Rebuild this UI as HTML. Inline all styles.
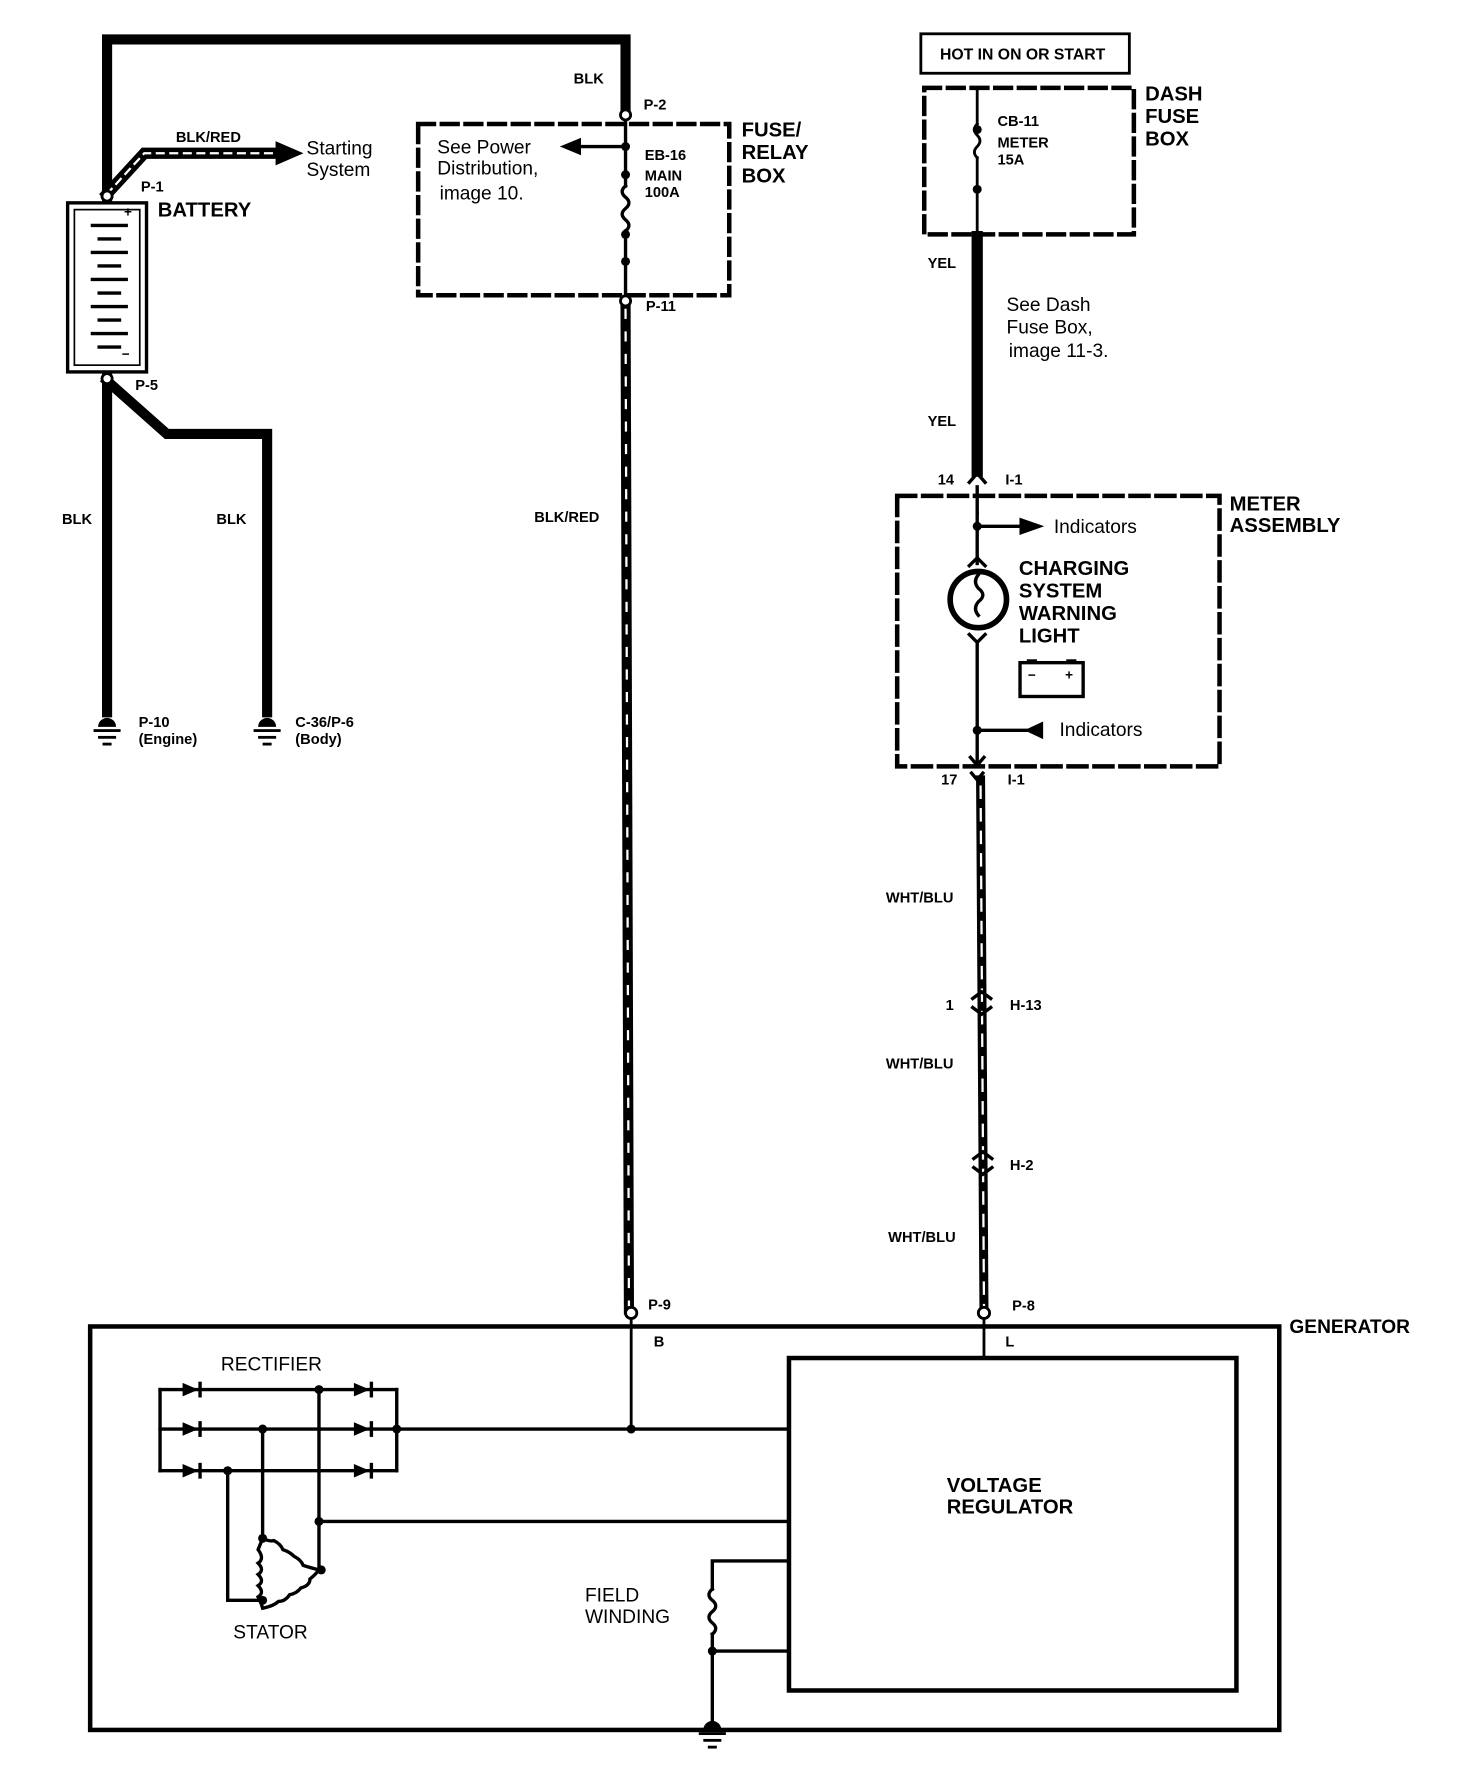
<!DOCTYPE html>
<html><head><meta charset="utf-8"><style>
html,body{margin:0;padding:0;background:#fff;}
svg{display:block}
text{font-family:"Liberation Sans",sans-serif;fill:#000}
.b{font-weight:bold}
</style></head><body>
<svg width="1472" height="1766" viewBox="0 0 1306 1567" preserveAspectRatio="none" xmlns="http://www.w3.org/2000/svg">
<g fill="none" stroke="#000" stroke-linecap="square">
<polyline points="95,175 95,35 555,35 555,98" stroke-width="9"/>
<polyline points="95,172 128,136 245,136" stroke-width="10"/>
<polyline points="95,172 128,136 245,136" stroke="#fff" stroke-width="2" stroke-dasharray="6 6"/>
<polygon points="245,126 268,136 245,146" fill="#000"/>
<rect x="60" y="180" width="70" height="150" stroke-width="3"/>
<rect x="66" y="186" width="58" height="138" stroke-width="1.5"/>
<g stroke-width="3">
<line x1="82" y1="200" x2="112" y2="200"/><line x1="88" y1="212" x2="106" y2="212"/>
<line x1="82" y1="224" x2="112" y2="224"/><line x1="88" y1="236" x2="106" y2="236"/>
<line x1="82" y1="248" x2="112" y2="248"/><line x1="88" y1="260" x2="106" y2="260"/>
<line x1="82" y1="272" x2="112" y2="272"/><line x1="88" y1="284" x2="106" y2="284"/>
<line x1="82" y1="296" x2="112" y2="296"/><line x1="88" y1="308" x2="106" y2="308"/>
</g>
<line x1="95" y1="335" x2="95" y2="632" stroke-width="9"/>
<polyline points="95,338 148,385 237,385 237,632" stroke-width="9"/>
<rect x="371" y="110" width="276" height="152" stroke-width="4" stroke-dasharray="14 7"/>
<line x1="555" y1="100" x2="555" y2="165" stroke-width="3"/>
<path d="M555,165 q-6,5 0,10 q6,5 0,10 q-6,5 0,10 q6,5 0,10" stroke-width="3"/>
<line x1="555" y1="205" x2="555" y2="267" stroke-width="3"/>
<line x1="555" y1="130" x2="512" y2="130" stroke-width="3"/>
<polygon points="515,123 498,130 515,137" fill="#000"/>
<line x1="555" y1="270" x2="558" y2="1162" stroke-width="9"/>
<line x1="555" y1="275" x2="558" y2="1158" stroke="#fff" stroke-width="2" stroke-dasharray="7 13"/>
<rect x="817" y="30" width="185" height="35" stroke-width="2.5"/>
<rect x="820" y="78" width="186" height="130" stroke-width="4" stroke-dasharray="14 7"/>
<line x1="867" y1="78" x2="867" y2="110" stroke-width="2.5"/>
<path d="M867,110 q-5,5 0,10 q5,5 0,10 q-5,5 0,10" stroke-width="2.5"/>
<line x1="867" y1="140" x2="867" y2="208" stroke-width="2.5"/>
<line x1="867" y1="210" x2="867" y2="418" stroke-width="10"/>
<path d="M860,428 L867,420 L874,428" stroke-width="3"/>
<line x1="867" y1="432" x2="867" y2="455" stroke-width="3"/>
<rect x="796" y="440" width="286" height="240" stroke-width="4" stroke-dasharray="16 7"/>
<line x1="867" y1="455" x2="867" y2="500" stroke-width="3"/>
<line x1="867" y1="467" x2="905" y2="467" stroke-width="3"/>
<polygon points="905,460 925,467 905,474" fill="#000"/>
<path d="M860,502 L867,495 L874,502" stroke-width="3"/>
<circle cx="868" cy="532" r="25" stroke-width="5"/>
<path d="M868,510 q-5,6 0,12 q8,6 0,12 q-5,6 0,12" stroke-width="3"/>
<path d="M860,563 L867,570 L874,563" stroke-width="3"/>
<line x1="867" y1="570" x2="867" y2="680" stroke-width="3"/>
<rect x="905" y="588" width="56" height="30" stroke-width="3"/>
<line x1="867" y1="648" x2="912" y2="648" stroke-width="3"/>
<polygon points="925,641 910,648 925,655" fill="#000"/>
<path d="M861,672 L867,679 L873,672" stroke-width="3"/>
<path d="M862,686 L867,692 L872,686" stroke-width="3"/>
<line x1="870" y1="692" x2="873" y2="1162" stroke-width="8"/>
<line x1="870" y1="698" x2="873" y2="1158" stroke="#fff" stroke-width="2" stroke-dasharray="10 10"/>
<path d="M863,886 L871,880 L879,886 M863,894 L871,900 L879,894" stroke-width="3"/>
<path d="M864,1028 L872,1022 L880,1028 M864,1036 L872,1042 L880,1036" stroke-width="3"/>
<rect x="80" y="1177" width="1055" height="358" stroke-width="4"/>
<rect x="700" y="1205" width="397" height="295" stroke-width="4"/>
<line x1="560" y1="1165" x2="560" y2="1268" stroke-width="2.5"/>
<line x1="873" y1="1165" x2="873" y2="1205" stroke-width="2.5"/>
<g stroke-width="3">
<line x1="142" y1="1233" x2="352" y2="1233"/>
<line x1="142" y1="1268" x2="700" y2="1268"/>
<line x1="142" y1="1305" x2="352" y2="1305"/>
<line x1="142" y1="1233" x2="142" y2="1305"/>
<line x1="352" y1="1233" x2="352" y2="1305"/>
<line x1="283" y1="1233" x2="283" y2="1393"/>
<line x1="233" y1="1268" x2="233" y2="1365"/>
<polyline points="202,1305 202,1420 233,1420"/>
<line x1="283" y1="1350" x2="700" y2="1350"/>
<path d="M233,1365 q6,3 10,2 q6,3 8,8 q6,2 10,6 q6,3 8,8 q6,2 14,4 q-4,5 -8,8 q0,6 -8,8 q-4,5 -10,6 q-4,6 -10,6 q-4,4 -14,6 q-2,-7 -4,-10 q6,-4 0,-10 q6,-4 0,-10 q6,-4 0,-10 q6,-4 0,-12 z"/>
<polyline points="700,1385 632,1385 632,1410"/>
<path d="M632,1410 q-6,5 0,10 q6,5 0,10 q-6,5 0,10 q6,5 0,10"/>
<line x1="632" y1="1450" x2="632" y2="1535"/>
<line x1="632" y1="1465" x2="700" y2="1465"/>
</g>
</g>
<g fill="#000">
<polygon points="162,1227 176,1233 162,1239"/><rect x="176" y="1226" width="3" height="14"/>
<polygon points="162,1262 176,1268 162,1274"/><rect x="176" y="1261" width="3" height="14"/>
<polygon points="162,1299 176,1305 162,1311"/><rect x="176" y="1298" width="3" height="14"/>
<polygon points="314,1227 328,1233 314,1239"/><rect x="328" y="1226" width="3" height="14"/>
<polygon points="314,1262 328,1268 314,1274"/><rect x="328" y="1261" width="3" height="14"/>
<polygon points="314,1299 328,1305 314,1311"/><rect x="328" y="1298" width="3" height="14"/>
<circle cx="283" cy="1233" r="4"/><circle cx="233" cy="1268" r="4"/><circle cx="352" cy="1268" r="4"/>
<circle cx="202" cy="1305" r="4"/><circle cx="560" cy="1268" r="4"/><circle cx="283" cy="1350" r="4"/>
<circle cx="233" cy="1365" r="4"/><circle cx="285" cy="1393" r="4"/><circle cx="233" cy="1420" r="4"/>
<circle cx="632" cy="1465" r="4"/>
<circle cx="555" cy="130" r="4"/><circle cx="555" cy="155" r="4"/><circle cx="555" cy="208" r="4"/><circle cx="555" cy="232" r="4"/>
<circle cx="867" cy="115" r="4"/><circle cx="867" cy="168" r="4"/>
<circle cx="867" cy="467" r="4"/><circle cx="867" cy="648" r="4"/>
<path d="M87,645 a8,8 0 0 1 16,0 z"/><rect x="83" y="647" width="24" height="2.5"/><rect x="87" y="653" width="16" height="2.5"/><rect x="91" y="659" width="8" height="2.5"/>
<path d="M229,645 a8,8 0 0 1 16,0 z"/><rect x="225" y="647" width="24" height="2.5"/><rect x="229" y="653" width="16" height="2.5"/><rect x="233" y="659" width="8" height="2.5"/>
<path d="M624,1535 a8,8 0 0 1 16,0 z"/><rect x="620" y="1537" width="24" height="2.5"/><rect x="624" y="1543" width="16" height="2.5"/><rect x="628" y="1549" width="8" height="2.5"/>
<rect x="911" y="585" width="9" height="4"/><rect x="946" y="585" width="9" height="4"/>
</g>
<g fill="#fff" stroke="#000" stroke-width="2.5">
<circle cx="95" cy="174" r="4.5"/><circle cx="95" cy="336" r="4.5"/>
<circle cx="555" cy="102" r="4.5"/><circle cx="555" cy="267" r="4.5"/>
<circle cx="560" cy="1165" r="5"/><circle cx="873" cy="1165" r="5"/>
</g>
<g class="b" font-size="13">
<text x="509" y="74" class="b">BLK</text>
<text x="571" y="97" class="b">P-2</text>
<text x="156" y="126" class="b">BLK/RED</text>
<text x="125" y="170" class="b">P-1</text>
<text x="120" y="346" class="b">P-5</text>
<text x="55" y="465" class="b">BLK</text>
<text x="192" y="465" class="b">BLK</text>
<text x="123" y="645" class="b">P-10</text>
<text x="123" y="660" class="b">(Engine)</text>
<text x="262" y="645" class="b">C-36/P-6</text>
<text x="262" y="660" class="b">(Body)</text>
<text x="572" y="142" class="b">EB-16</text>
<text x="572" y="160" class="b">MAIN</text>
<text x="572" y="175" class="b">100A</text>
<text x="573" y="276" class="b">P-11</text>
<text x="474" y="463" class="b">BLK/RED</text>
<text x="885" y="112" class="b">CB-11</text>
<text x="885" y="131" class="b">METER</text>
<text x="885" y="146" class="b">15A</text>
<text x="823" y="238" class="b">YEL</text>
<text x="823" y="378" class="b">YEL</text>
<text x="832" y="430" class="b">14</text>
<text x="892" y="430" class="b">I-1</text>
<text x="835" y="696" class="b">17</text>
<text x="894" y="696" class="b">I-1</text>
<text x="786" y="801" class="b">WHT/BLU</text>
<text x="839" y="896" class="b">1</text>
<text x="896" y="896" class="b">H-13</text>
<text x="786" y="948" class="b">WHT/BLU</text>
<text x="896" y="1038" class="b">H-2</text>
<text x="788" y="1102" class="b">WHT/BLU</text>
<text x="575" y="1162" class="b">P-9</text>
<text x="898" y="1163" class="b">P-8</text>
<text x="580" y="1195" class="b">B</text>
<text x="892" y="1195" class="b">L</text>
</g>
<text x="834" y="53" font-size="14" class="b">HOT IN ON OR START</text>
<g font-size="18" class="b">
<text x="140" y="192">BATTERY</text>
<text x="658" y="121">FUSE/</text>
<text x="658" y="141">RELAY</text>
<text x="658" y="162">BOX</text>
<text x="1016" y="89">DASH</text>
<text x="1016" y="109">FUSE</text>
<text x="1016" y="129">BOX</text>
<text x="1091" y="453">METER</text>
<text x="1091" y="472">ASSEMBLY</text>
<text x="904" y="510">CHARGING</text>
<text x="904" y="530">SYSTEM</text>
<text x="904" y="550">WARNING</text>
<text x="904" y="570">LIGHT</text>
<text x="1144" y="1183" font-size="17">GENERATOR</text>
<text x="840" y="1324">VOLTAGE</text>
<text x="840" y="1343">REGULATOR</text>
</g>
<g font-size="17">
<text x="272" y="137">Starting</text>
<text x="272" y="156">System</text>
<text x="388" y="136">See Power</text>
<text x="388" y="155">Distribution,</text>
<text x="390" y="177">image 10.</text>
<text x="893" y="276">See Dash</text>
<text x="893" y="296">Fuse Box,</text>
<text x="895" y="317">image 11-3.</text>
<text x="935" y="473">Indicators</text>
<text x="940" y="653">Indicators</text>
<text x="196" y="1216">RECTIFIER</text>
<text x="207" y="1454">STATOR</text>
<text x="519" y="1421">FIELD</text>
<text x="519" y="1440">WINDING</text>
</g>
<text x="110" y="192" font-size="12" class="b">+</text>
<text x="108" y="318" font-size="12" class="b">−</text>
<text x="912" y="603" font-size="12" class="b">−</text>
<text x="945" y="603" font-size="12" class="b">+</text>
</svg>
</body></html>
